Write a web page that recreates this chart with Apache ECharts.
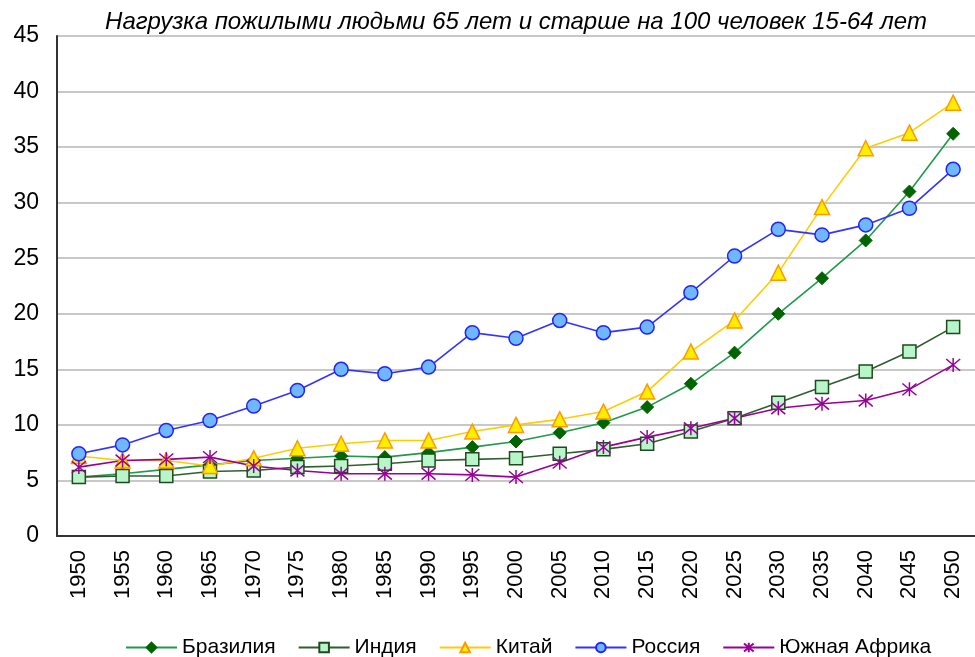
<!DOCTYPE html>
<html><head><meta charset="utf-8">
<script src="https://cdn.jsdelivr.net/npm/echarts@6/dist/echarts.min.js"></script>
<style>html,body{margin:0;padding:0;background:#fff}#c{width:975px;height:657px}</style>
</head><body><div id="c"></div>
<script>
const years = ['1950','1955','1960','1965','1970','1975','1980','1985','1990','1995','2000','2005','2010','2015','2020','2025','2030','2035','2040','2045','2050'];
const brazil = [5.3,5.6,6.0,6.4,6.8,7.0,7.2,7.1,7.5,8.0,8.5,9.3,10.2,11.6,13.7,16.5,20.0,23.2,26.6,31.0,36.2];
const india  = [5.3,5.4,5.4,5.8,5.9,6.2,6.3,6.5,6.8,6.9,7.0,7.4,7.8,8.3,9.4,10.6,12.0,13.4,14.8,16.6,18.8];
const china  = [7.2,6.8,6.8,6.3,7.0,7.9,8.3,8.6,8.6,9.4,10.0,10.5,11.2,13.0,16.6,19.4,23.7,29.6,34.9,36.3,39.0];
const russia = [7.4,8.2,9.5,10.4,11.7,13.1,15.0,14.6,15.2,18.3,17.8,19.4,18.3,18.8,21.9,25.2,27.6,27.1,28.0,29.5,33.0];
const safrica= [6.2,6.8,6.9,7.1,6.3,5.9,5.6,5.6,5.6,5.5,5.3,6.6,8.0,8.9,9.7,10.6,11.5,11.9,12.2,13.2,15.4];
const yTicks = [0,5,10,15,20,25,30,35,40,45];
const names = ['Бразилия','Индия','Китай','Россия','Южная Африка'];
const title = 'Нагрузка пожилыми людьми 65 лет и старше на 100 человек 15-64 лет';

const star = 'path://M5,0L5,10M0.8,0.8L9.2,9.2M9.2,0.8L0.8,9.2';
function mk(name, data, lineColor, sym, size, fill, border, bw) {
  return {
    name, type: 'line', data, symbol: sym, symbolSize: size, showAllSymbol: true,
    lineStyle: { color: lineColor, width: 1.6 },
    itemStyle: { color: fill, borderColor: border, borderWidth: bw },
    emphasis: { disabled: true }, animation: false
  };
}
const chart = echarts.init(document.getElementById('c'), null, {renderer: 'canvas'});
chart.setOption({
  animation: false,
  title: { text: title, left: 511, top: 5, textAlign: 'center',
    textStyle: { fontFamily: 'Liberation Sans', fontStyle: 'italic', fontWeight: 'normal', fontSize: 24, color: '#000' } },
  grid: { left: 57, right: -12, top: 36, bottom: 121, containLabel: false },
  legend: { top: 632, left: 120, itemWidth: 51, itemHeight: 12, itemGap: 22,
    textStyle: { fontFamily: 'Liberation Sans', fontSize: 21, color: '#000' }, data: names },
  xAxis: { type: 'category', data: years, boundaryGap: true,
    axisLine: { lineStyle: { color: '#333', width: 2 } }, axisTick: { show: false },
    axisLabel: { rotate: 90, margin: 14, fontFamily: 'Liberation Sans', fontSize: 22, color: '#000', interval: 0 } },
  yAxis: { type: 'value', min: 0, max: 45, interval: 5,
    axisLine: { show: true, lineStyle: { color: '#333', width: 2 } }, axisTick: { show: false },
    splitLine: { lineStyle: { color: '#c8c8c8', width: 2 } },
    axisLabel: { margin: 18, fontFamily: 'Liberation Sans', fontSize: 23, color: '#000',
      formatter: v => yTicks.includes(v) ? String(v) : '' } },
  series: [
    mk(names[0], brazil, '#1f9a4a', 'diamond', 13, '#006400', '#006400', 1),
    mk(names[1], india, '#2f5f2f', 'rect', 13, '#b8f5c8', '#1e4a1e', 1.5),
    mk(names[2], china, '#ffcc00', 'triangle', 15, '#ffee00', '#ff9900', 1.5),
    mk(names[3], russia, '#3333ff', 'circle', 14, '#6fb8ff', '#2222ff', 1.5),
    mk(names[4], safrica, '#990099', star, 14, 'none', '#990099', 1.5)
  ]
});
</script></body></html>
